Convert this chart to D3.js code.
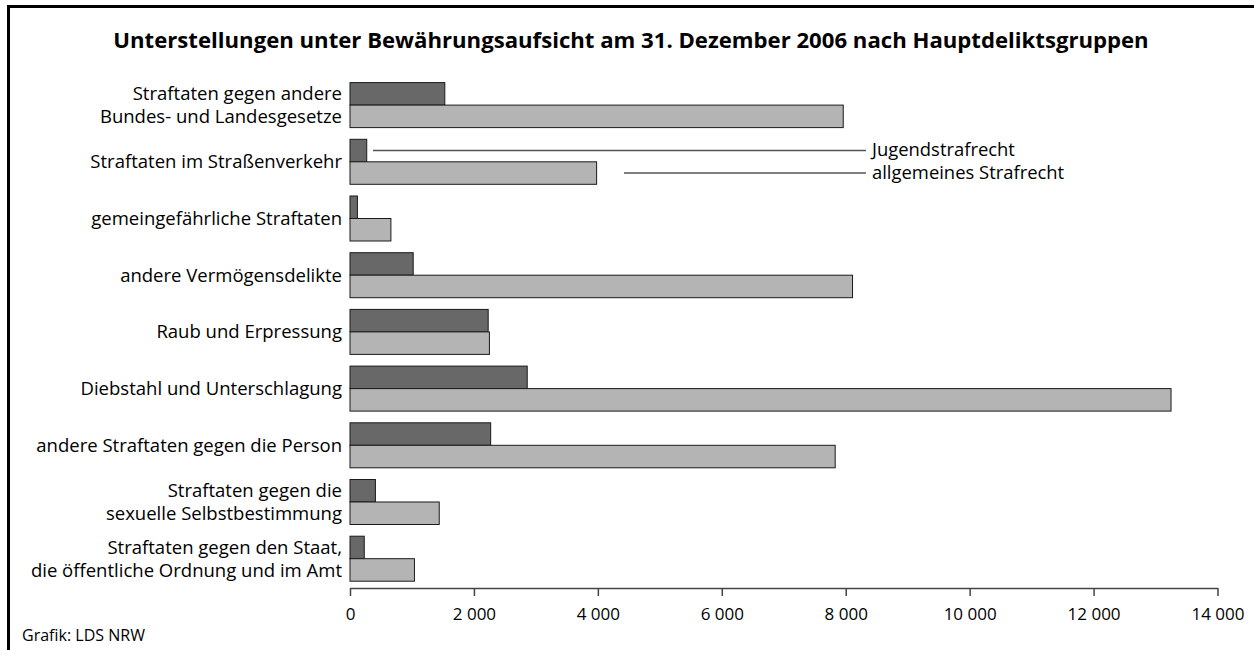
<!DOCTYPE html>
<html>
<head>
<meta charset="utf-8">
<script src="https://cdn.jsdelivr.net/npm/d3@7"></script>
<style>
  html, body { margin: 0; padding: 0; background: #fff; }
  svg { display: block; }
</style>
</head>
<body>
<svg id="chart" width="1254" height="650"></svg>
<script>
// ---- data ----
const title = "Unterstellungen unter Bewährungsaufsicht am 31. Dezember 2006 nach Hauptdeliktsgruppen";
const categories = [
  "Straftaten gegen andere\nBundes- und Landesgesetze",
  "Straftaten im Straßenverkehr",
  "gemeingefährliche Straftaten",
  "andere Vermögensdelikte",
  "Raub und Erpressung",
  "Diebstahl und Unterschlagung",
  "andere Straftaten gegen die Person",
  "Straftaten gegen die\nsexuelle Selbstbestimmung",
  "Straftaten gegen den Staat,\ndie öffentliche Ordnung und im Amt"
];
const seriesNames = ["Jugendstrafrecht", "allgemeines Strafrecht"];
const jugendstrafrecht = [1530, 270, 120, 1020, 2230, 2860, 2270, 410, 230];
const allgemeinesStrafrecht = [7960, 3980, 660, 8110, 2250, 13250, 7830, 1440, 1040];
const tickValues = [0, 2000, 4000, 6000, 8000, 10000, 12000, 14000];
const source = "Grafik: LDS NRW";

// ---- setup ----
const FONT = "'Open Sans', 'Noto Sans', 'DejaVu Sans', sans-serif";
const svg = d3.select("#chart");
const colors = ["#686868", "#b4b4b4"];

function fitSize(text, targetWidth, weight) {
  const t = svg.append("text").attr("font-family", FONT).attr("font-size", 20)
    .attr("font-weight", weight || "normal").text(text);
  const w = t.node().getComputedTextLength();
  t.remove();
  return 20 * targetWidth / w;
}

// border
svg.append("path")
  .attr("d", "M8.5,650 V6.5 H1254")
  .attr("fill", "none").attr("stroke", "#000").attr("stroke-width", 3);

// title
const titleSize = fitSize(title, 1036, "bold");
svg.append("text")
  .attr("x", 631).attr("y", 48)
  .attr("text-anchor", "middle")
  .attr("font-family", FONT).attr("font-weight", "bold")
  .attr("font-size", titleSize)
  .attr("fill", "#000")
  .text(title);

// scales
const x = d3.scaleLinear().domain([0, 14000]).range([350, 1217.5]);
const y = d3.scaleBand().domain(categories).range([82.6, 581.2])
  .paddingInner(0.2063).paddingOuter(0);
const sub = d3.scaleBand().domain(seriesNames).range([0, y.bandwidth()]);

const data = categories.map((c, i) => ({
  cat: c,
  values: [
    { s: seriesNames[0], v: jugendstrafrecht[i] },
    { s: seriesNames[1], v: allgemeinesStrafrecht[i] }
  ]
}));

// bars
const g = svg.append("g");
const groups = g.selectAll("g.grp").data(data).join("g")
  .attr("class", "grp")
  .attr("transform", d => `translate(0,${y(d.cat)})`);
groups.selectAll("rect").data(d => d.values).join("rect")
  .attr("x", x(0))
  .attr("y", d => sub(d.s))
  .attr("width", d => x(d.v) - x(0))
  .attr("height", sub.bandwidth())
  .attr("fill", (d, i) => colors[i])
  .attr("stroke", "#1a1a1a")
  .attr("stroke-width", 1);

// category labels
const labelSize = fitSize("andere Straftaten gegen die Person", 306);
const lineH = 23;
data.forEach(d => {
  const lines = d.cat.split("\n");
  const cy = y(d.cat) + y.bandwidth() / 2;
  const t = svg.append("text")
    .attr("font-family", FONT).attr("font-size", labelSize)
    .attr("fill", "#000").attr("text-anchor", "end");
  lines.forEach((ln, k) => {
    t.append("tspan")
      .attr("x", 342)
      .attr("y", cy + (k - (lines.length - 1) / 2) * lineH)
      .attr("dy", "0.35em")
      .text(ln);
  });
});

// axis
const loc = d3.formatLocale({ decimal: ",", thousands: " ", grouping: [3], currency: ["", "€"] });
const fmt = loc.format(",d");
const axis = d3.axisBottom(x).tickValues(tickValues).tickFormat(fmt)
  .tickSize(8).tickSizeOuter(0).tickPadding(12);
const ax = svg.append("g").attr("transform", "translate(0,588)").call(axis);
ax.attr("font-size", null).attr("font-family", null);
ax.select(".domain").attr("stroke", "#444").attr("stroke-width", 1.5);
ax.selectAll(".tick line").attr("stroke", "#444").attr("stroke-width", 1.5);
ax.selectAll(".tick text")
  .style("font-family", FONT).style("font-size", "17px").attr("fill", "#000");

// legend (leader lines at the Straßenverkehr bars)
const legendCat = categories[1];
const legendY = [
  y(legendCat) + sub(seriesNames[0]) + sub.bandwidth() / 2,
  y(legendCat) + sub(seriesNames[1]) + sub.bandwidth() / 2
];
const legendStart = [373, 624];
const legSize = fitSize("Jugendstrafrecht", 143);
seriesNames.forEach((s, i) => {
  svg.append("line")
    .attr("x1", legendStart[i]).attr("x2", 866)
    .attr("y1", legendY[i]).attr("y2", legendY[i])
    .attr("stroke", "#555").attr("stroke-width", 1.5);
  svg.append("text")
    .attr("x", 872).attr("y", legendY[i]).attr("dy", "0.3em")
    .attr("font-family", FONT).attr("font-size", legSize).attr("fill", "#000")
    .text(s);
});

// source
const srcSize = fitSize(source, 123);
svg.append("text")
  .attr("x", 22).attr("y", 641)
  .attr("font-family", FONT).attr("font-size", srcSize).attr("fill", "#000")
  .text(source);
</script>
</body>
</html>
